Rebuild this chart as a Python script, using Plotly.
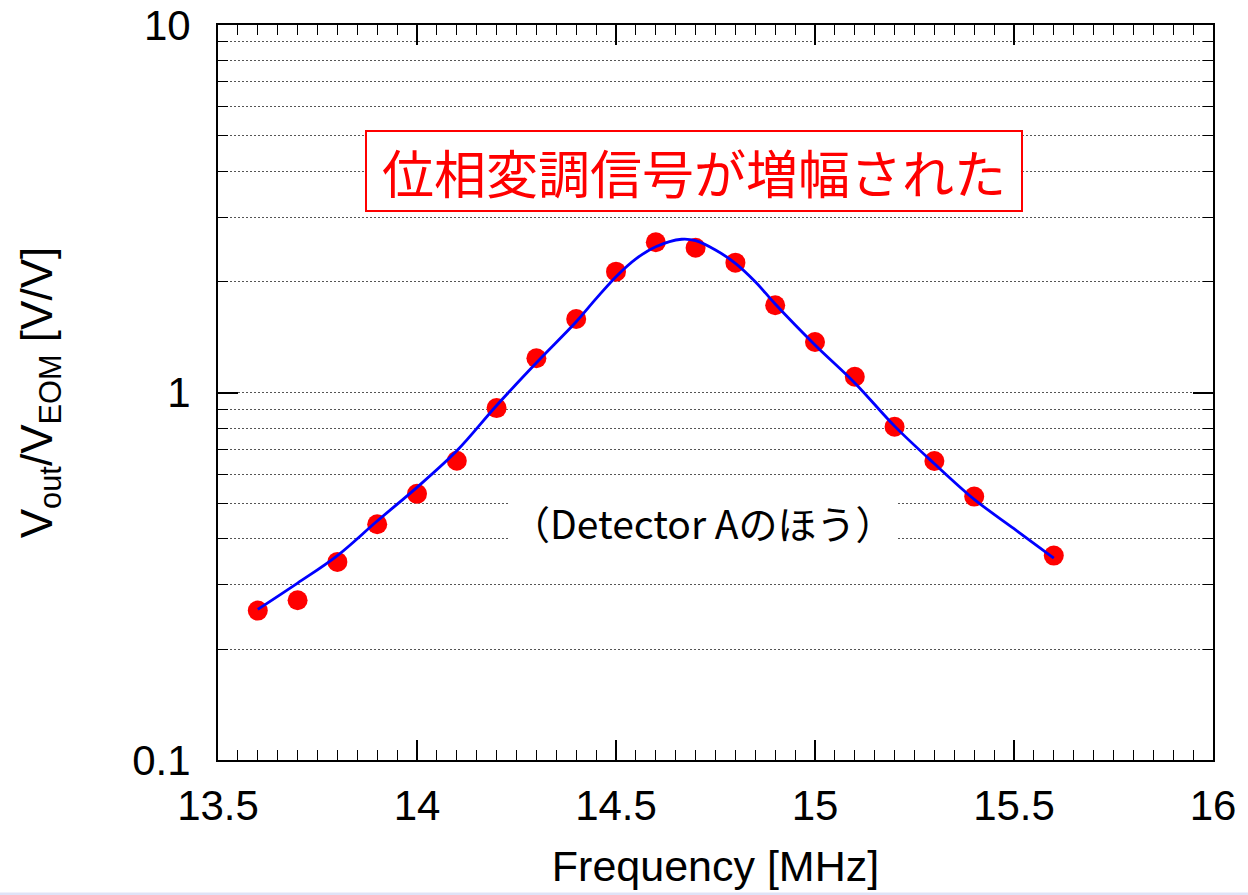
import plotly.graph_objects as go

# measured points
freq = [13.6, 13.7, 13.8, 13.9, 14.0, 14.1, 14.2, 14.3, 14.4, 14.5,
        14.6, 14.7, 14.8, 14.9, 15.0, 15.1, 15.2, 15.3, 15.4, 15.6]
ratio = [0.255, 0.272, 0.346, 0.438, 0.530, 0.652, 0.907, 1.239, 1.585, 2.132,
         2.563, 2.477, 2.256, 1.727, 1.372, 1.104, 0.807, 0.651, 0.521, 0.360]

# fitted curve
fit_freq = [13.6, 13.7, 13.8, 13.9, 14.0, 14.1, 14.2, 14.3, 14.4, 14.45, 14.5,
            14.55, 14.6, 14.665, 14.7, 14.75, 14.8, 14.85, 14.9, 15.0, 15.1,
            15.2, 15.3, 15.4, 15.5, 15.6]
fit_ratio = [0.257, 0.303, 0.360, 0.447, 0.552, 0.694, 0.922, 1.205, 1.558, 1.800, 2.066,
             2.310, 2.493, 2.612, 2.589, 2.442, 2.247, 2.002, 1.741, 1.347, 1.062,
             0.810, 0.640, 0.512, 0.426, 0.354]

x_ticks = [13.5, 14.0, 14.5, 15.0, 15.5, 16.0]
x_ticktext = ["13.5", "14", "14.5", "15", "15.5", "16"]
y_ticks = [0.1, 1, 10]
y_ticktext = ["0.1", "1", "10"]
y_minor = [0.2, 0.3, 0.4, 0.5, 0.6, 0.7, 0.8, 0.9, 2, 3, 4, 5, 6, 7, 8, 9]

title_text = "位相変調信号が増幅された"
note_text = "（Detector Aのほう）"

fig = go.Figure()
fig.add_trace(go.Scatter(x=freq, y=ratio, mode="markers",
                         marker=dict(color="#ff0000", size=20),
                         showlegend=False))
fig.add_trace(go.Scatter(x=fit_freq, y=fit_ratio, mode="lines",
                         line=dict(color="#0000ff", width=2.8, shape="spline", smoothing=1.0),
                         showlegend=False))

axis_font = dict(family="Liberation Sans, Arial, sans-serif", size=42, color="black")

fig.update_layout(
    width=1248, height=895,
    margin=dict(l=218, r=35, t=25, b=135, autoexpand=False),
    paper_bgcolor="white", plot_bgcolor="white",
    font=axis_font,
    xaxis=dict(
        range=[13.5, 16], tickvals=x_ticks, ticktext=x_ticktext,
        ticks="inside", ticklen=20, tickwidth=1.5, tickcolor="black",
        showline=True, linecolor="black", linewidth=2, mirror="ticks",
        showgrid=False, zeroline=False, automargin=False,
        tickfont=axis_font, ticklabelstandoff=8,
        minor=dict(dtick=0.05, ticks="inside", ticklen=10, tickwidth=1,
                   tickcolor="black", showgrid=False),
        title=dict(text="Frequency [MHz]", font=dict(size=43, family="Liberation Sans, Arial, sans-serif"),
                   standoff=22),
    ),
    yaxis=dict(
        type="log", range=[-1, 1], tickvals=y_ticks, ticktext=y_ticktext,
        ticks="inside", ticklen=20, tickwidth=1.5, tickcolor="black",
        showline=True, linecolor="black", linewidth=2, mirror="ticks",
        showgrid=True, gridcolor="#555555", gridwidth=1, griddash="2px,2px",
        zeroline=False, automargin=False,
        tickfont=axis_font, ticklabelstandoff=17,
        minor=dict(tickvals=y_minor, ticks="inside", ticklen=10, tickwidth=1,
                   tickcolor="black", showgrid=True, gridcolor="#555555",
                   gridwidth=1, griddash="2px,2px"),
        title=dict(text="V<sub>out</sub>/V<sub>EOM</sub> [V/V]",
                   font=dict(size=44, family="Liberation Sans, Arial, sans-serif"),
                   standoff=66),
    ),
    annotations=[
        dict(text=title_text, xref="paper", yref="paper", x=0.4784, y=0.8014,
             xanchor="center", yanchor="middle", showarrow=False,
             font=dict(family="Noto Sans CJK JP", size=52, color="#ff0000"),
             bgcolor="white", bordercolor="#ff0000", borderwidth=2, borderpad=1,
             width=652, height=76),
        dict(text=note_text, xref="paper", yref="paper", x=0.4874, y=0.3238,
             xanchor="center", yanchor="middle", showarrow=False,
             font=dict(family="Noto Sans CJK JP", size=39, color="black"),
             bgcolor="white"),
    ],
    shapes=[
        dict(type="rect", xref="paper", yref="paper", x0=-0.3, x1=1.1,
             y0=-0.1837, y1=-0.1803, fillcolor="#dfe3f7", line=dict(width=0),
             layer="above"),
    ],
)

fig.write_html("out.html")
